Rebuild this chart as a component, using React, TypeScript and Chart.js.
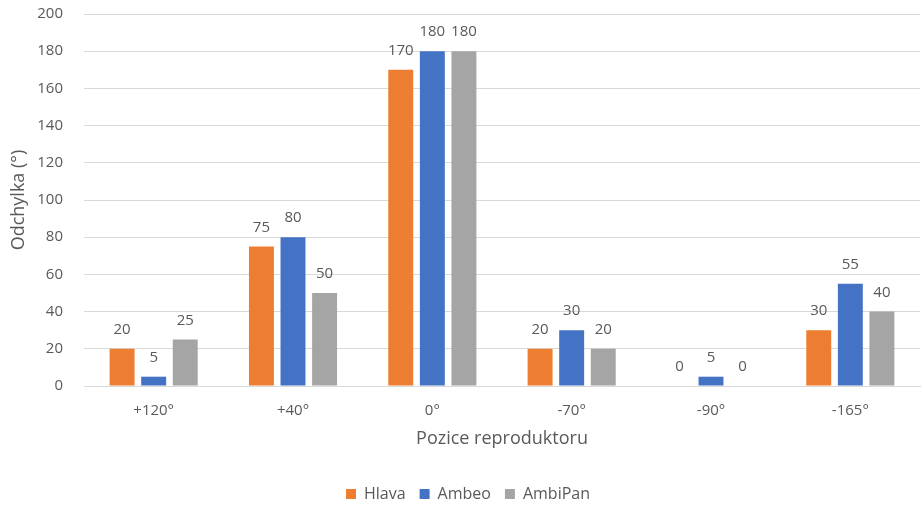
import React, { useEffect, useRef } from "react";
import { Chart, registerables } from "chart.js";

Chart.register(...registerables);

const categories = ["+120°", "+40°", "0°", "-70°", "-90°", "-165°"];
const hlava = [20, 75, 170, 20, 0, 30];
const ambeo = [5, 80, 180, 30, 5, 55];
const ambiPan = [25, 50, 180, 20, 0, 40];
const yTicks = { min: 0, max: 200, step: 20 };

const FONT = "'Open Sans', 'Liberation Sans', sans-serif";
const TEXT = "#595959";

// Writes each bar's value just above its top edge
const valueLabels = {
  id: "valueLabels",
  afterDatasetsDraw(chart: any) {
    const ctx = chart.ctx;
    ctx.save();
    ctx.font = `15px ${FONT}`;
    ctx.fillStyle = TEXT;
    ctx.textAlign = "center";
    ctx.textBaseline = "middle";
    chart.data.datasets.forEach((ds: any, i: number) => {
      const meta = chart.getDatasetMeta(i);
      meta.data.forEach((bar: any, j: number) => {
        ctx.fillText(String(ds.data[j]), bar.x, bar.y - 19);
      });
    });
    ctx.restore();
  },
};

export default function App() {
  const ref = useRef<HTMLCanvasElement>(null);

  useEffect(() => {
    if (!ref.current) return;
    const bar = (label: string, data: number[], color: string) => ({
      label,
      data,
      backgroundColor: color,
      borderWidth: 0,
      categoryPercentage: 0.68,
      barPercentage: 0.79,
    });
    const chart = new Chart(ref.current, {
      type: "bar",
      data: {
        labels: categories,
        datasets: [
          bar("Hlava", hlava, "#ED7D31"),
          bar("Ambeo", ambeo, "#4472C4"),
          bar("AmbiPan", ambiPan, "#A5A5A5"),
        ],
      },
      options: {
        animation: false,
        responsive: false,
        maintainAspectRatio: false,
        layout: { padding: { top: 0, right: 4, bottom: 0, left: 16 } },
        plugins: {
          tooltip: { enabled: false },
          legend: {
            position: "bottom",
            labels: {
              boxWidth: 10,
              boxHeight: 10,
              padding: 14,
              color: TEXT,
              font: { family: FONT, size: 16 },
            },
          },
        },
        scales: {
          x: {
            afterFit: (s: any) => {
              s.height = 86;
            },
            grid: { display: false },
            border: { display: true, color: "#D9D9D9" },
            ticks: { color: TEXT, font: { family: FONT, size: 15 }, padding: 8 },
            title: {
              display: true,
              text: "Pozice reproduktoru",
              color: TEXT,
              font: { family: FONT, size: 18 },
              padding: { top: 0, bottom: 22 },
            },
          },
          y: {
            min: yTicks.min,
            max: yTicks.max,
            afterFit: (s: any) => {
              s.width = 68;
            },
            border: { display: false },
            grid: {
              color: "#D9D9D9",
              drawTicks: true,
              tickLength: 16,
              tickColor: "rgba(0,0,0,0)",
            },
            ticks: {
              stepSize: yTicks.step,
              color: TEXT,
              font: { family: FONT, size: 15 },
              padding: 5,
            },
            title: {
              display: true,
              text: "Odchylka (°)",
              color: TEXT,
              font: { family: FONT, size: 18 },
              padding: { top: -8, bottom: 0 },
            },
          },
        },
      },
      plugins: [valueLabels],
    });
    return () => chart.destroy();
  }, []);

  return (
    <div
      style={{
        position: "absolute",
        left: 0,
        top: 0,
        width: 924,
        height: 506,
        overflow: "hidden",
        background: "#fff",
      }}
    >
      <canvas ref={ref} width={924} height={512} />
    </div>
  );
}
